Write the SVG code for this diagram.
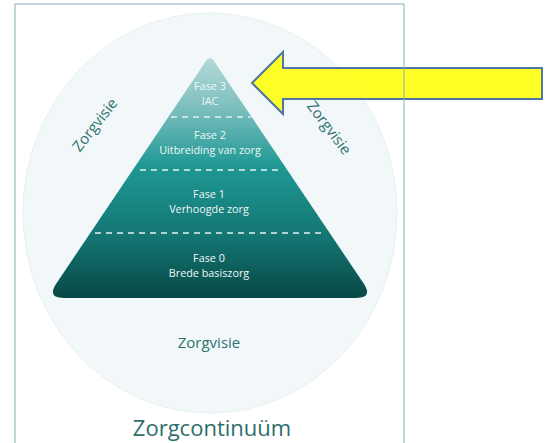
<svg xmlns="http://www.w3.org/2000/svg" width="548" height="443" viewBox="0 0 548 443">
<defs>
<linearGradient id="pg" x1="0" y1="0" x2="0" y2="1">
<stop offset="0" stop-color="#b4d9d9"/>
<stop offset="0.2" stop-color="#7fc0bf"/>
<stop offset="0.45" stop-color="#1f9894"/>
<stop offset="0.75" stop-color="#137572"/>
<stop offset="1" stop-color="#084846"/>
</linearGradient>
<style>
.pt{font-family:"Open Sans","Noto Sans",sans-serif;font-size:10.8px;fill:#eef7f7;text-anchor:middle}
.zv{font-family:"Open Sans","Noto Sans",sans-serif;font-size:15px;fill:#2e7370;text-anchor:middle}
.dash{stroke:#e4f2f2;stroke-width:1.5;stroke-dasharray:6 5}
</style>
</defs>
<rect x="0" y="0" width="548" height="443" fill="#ffffff"/>
<g id="background">
<ellipse cx="210" cy="213" rx="187" ry="200" fill="#f2f8f9" stroke="#e8f0f0" stroke-width="1"/>
</g>
<g id="pyramid">
<path d="M204,64 Q210,52 216,64 L364,284 Q373,298 356,298 L64,298 Q47,298 56,284 Z" fill="url(#pg)"/>
<line class="dash" x1="171" y1="117" x2="251" y2="117"/>
<line class="dash" x1="140" y1="170" x2="282" y2="170"/>
<line class="dash" x1="95" y1="233" x2="326" y2="233"/>
</g>
<g id="fase3"><text class="pt" x="210" y="89.5">Fase 3</text><text class="pt" x="210" y="104.5">IAC</text></g>
<g id="fase2"><text class="pt" x="210" y="139">Fase 2</text><text class="pt" x="210" y="154">Uitbreiding van zorg</text></g>
<g id="fase1"><text class="pt" x="209" y="197.5">Fase 1</text><text class="pt" x="209" y="212.5">Verhoogde zorg</text></g>
<g id="fase0"><text class="pt" x="209" y="262">Fase 0</text><text class="pt" x="209" y="277">Brede basiszorg</text></g>
<g id="zorgvisie-left"><text class="zv" transform="translate(95,125) rotate(-52)" y="5">Zorgvisie</text></g>
<g id="zorgvisie-right"><text class="zv" transform="translate(329,128) rotate(53)" y="5">Zorgvisie</text></g>
<g id="zorgvisie-bottom"><text class="zv" x="209" y="348">Zorgvisie</text></g>
<g id="title"><text x="212" y="436" font-family="'Open Sans','Noto Sans',sans-serif" font-size="22" fill="#2e6e6b" text-anchor="middle">Zorgcontinuüm</text></g>
<g id="connectors">
<path d="M252,83 L283,52 L283,68 L542,68 L542,99 L283,99 L283,114 Z" fill="#ffff00" fill-opacity="0.85" stroke="#4f77a6" stroke-width="2" stroke-linejoin="miter"/>
</g>
<rect x="15" y="4" width="389" height="460" fill="none" stroke="#86b0b3" stroke-width="1"/>
</svg>
